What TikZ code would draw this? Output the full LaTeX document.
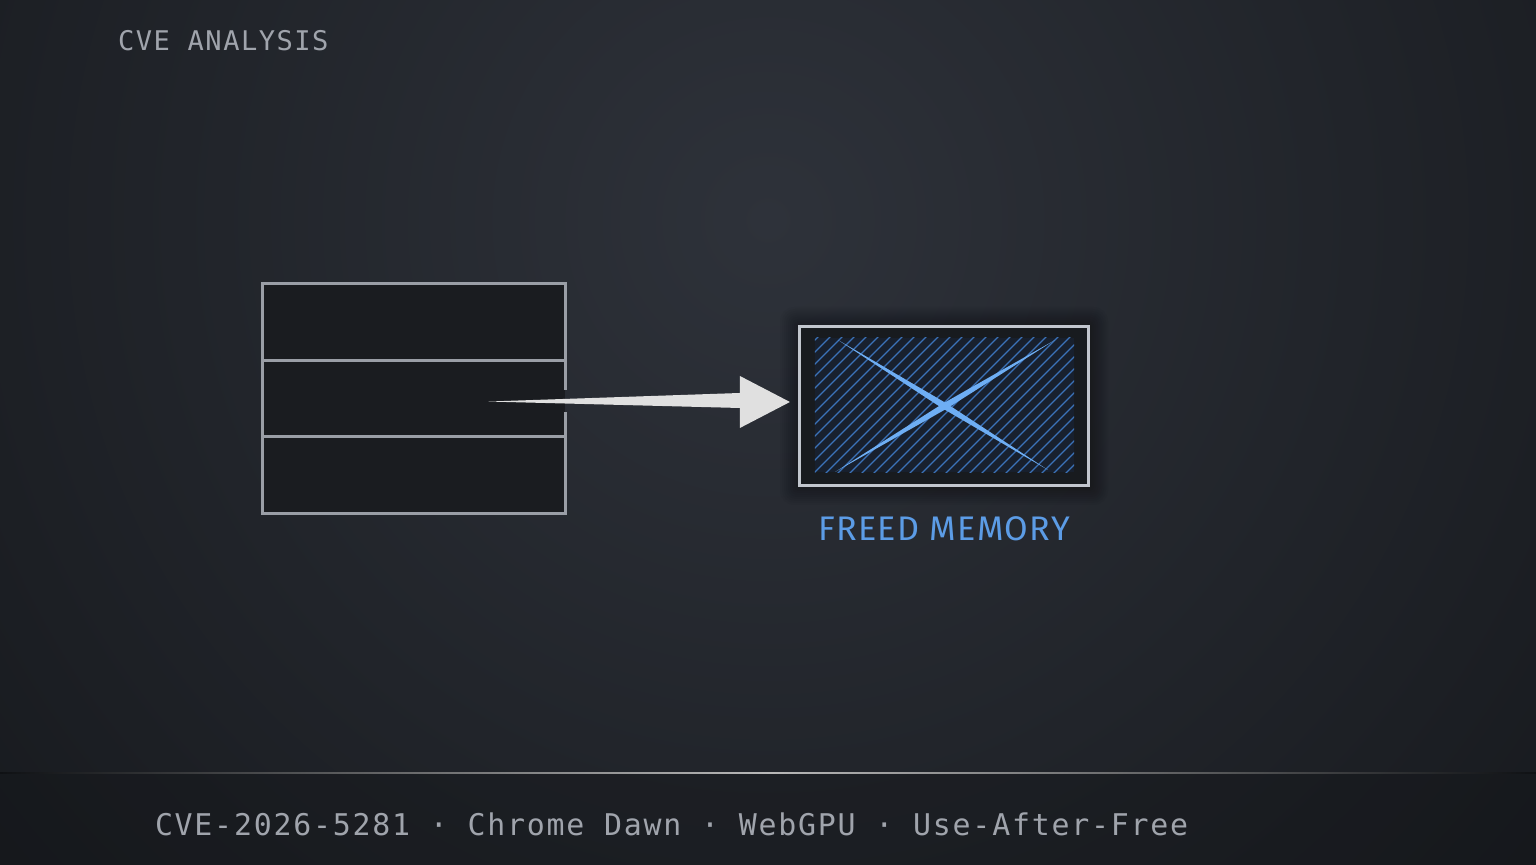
\documentclass[tikz,border=0pt]{standalone}
\usepackage{fontspec}
\newfontfamily\headfont[LetterSpace=5.5]{DejaVu Sans Mono}
\newfontfamily\footfont[LetterSpace=5.9]{DejaVu Sans Mono}
\newfontfamily\labelfont[LetterSpace=4]{Fira Sans}
\usepackage{tikz}
\usetikzlibrary{calc,positioning}

\definecolor{bgin}{HTML}{2E323A}
\definecolor{bgout}{HTML}{0F1114}
\definecolor{bandfill}{HTML}{131518}
\definecolor{cellfill}{HTML}{1A1C20}
\definecolor{cellline}{HTML}{9A9EA6}
\definecolor{arrowgrey}{HTML}{E0E0E0}
\definecolor{freedline}{HTML}{C2C6CE}
\definecolor{freedfill}{HTML}{181B1F}
\definecolor{hatchfill}{HTML}{18202E}
\definecolor{hatchline}{HTML}{3B72B8}
\definecolor{crossblue}{HTML}{6EAEF4}
\definecolor{labelblue}{HTML}{5C9CE6}
\definecolor{textgrey}{HTML}{A0A4AC}

\begin{document}
\begin{tikzpicture}[
  x=0.01cm, y=-0.01cm,
  cell/.style={rectangle, fill=cellfill, minimum width=3.02cm, minimum height=0.765cm,
    inner sep=0pt, outer sep=0pt},
  celledge/.style={draw=cellline, line width=0.85pt},
  freedbox/.style={rectangle, draw=freedline, fill=freedfill, line width=0.85pt,
    minimum width=2.88cm, minimum height=1.58cm, inner sep=0pt, outer sep=0pt},
  hatchstroke/.style={draw=hatchline, line width=0.4pt},
  crossstroke/.style={fill=crossblue},
  arrowfill/.style={fill=arrowgrey},
  plain/.style={inner sep=0pt, outer sep=0pt}
]
\useasboundingbox (0,0) rectangle (1536,865);

% background
\begin{scope}
  \clip (0,0) rectangle (1536,865);
  \fill[bgout] (0,0) rectangle (1536,865);
  \shade[inner color=bgin, outer color=bgout] (768,220) circle (1400);
  \fill[bandfill, opacity=0.35] (0,773) rectangle (1536,865);
\end{scope}
\shade[left color=bgout, right color=bgout, middle color=gray!55] (0,772.5) rectangle (1536,773.5);

% top heading
\node[plain, anchor=base west, text=textgrey, font=\headfont\fontsize{7.7}{9}\selectfont]
  (heading) at (118,51) {CVE ANALYSIS};

% memory cells
\node[cell] (cell1) at (414,322) {};
\node[cell, below=0pt of cell1] (cell2) {};
\node[cell, below=0pt of cell2] (cell3) {};
\draw[celledge] (cell1.south west) rectangle (cell1.north east);
\draw[celledge] (cell3.south west) rectangle (cell3.north east);
\draw[celledge] ($(cell2.east)+(0,-9)$) -- (cell2.north east) -- (cell2.north west)
  -- (cell2.south west) -- (cell2.south east) -- ($(cell2.east)+(0,13)$);

% freed block
\foreach \s in {2,4,...,20}
  \fill[black, opacity=0.03, rounded corners=\s*0.2pt]
    (944-144-\s,406-79-\s) rectangle (944+144+\s,406+79+\s);
\node[freedbox] (freed) at (944,406) {};
\coordinate (hatchA) at ($(freed.north west)+(15,11)$);
\coordinate (hatchB) at ($(freed.south east)+(-14,-13)$);
\begin{scope}
  \clip (hatchA) rectangle (hatchB);
  \fill[hatchfill] (hatchA) rectangle (hatchB);
  \foreach \hx in {668,680,...,1090}
    \draw[hatchstroke] (\hx,475) -- ++(140,-140);
\end{scope}

% cross
\coordinate (crossA1) at (838,340);
\coordinate (crossA2) at (1048,470);
\coordinate (crossB1) at (835,472);
\coordinate (crossB2) at (1055,340);
\fill[crossstroke] (crossA1) -- ($($(crossA1)!0.5!(crossA2)$)!0.9pt!90:(crossA2)$)
  -- (crossA2) -- ($($(crossA1)!0.5!(crossA2)$)!0.9pt!-90:(crossA2)$) -- cycle;
\fill[crossstroke] (crossB1) -- ($($(crossB1)!0.5!(crossB2)$)!0.9pt!90:(crossB2)$)
  -- (crossB2) -- ($($(crossB1)!0.5!(crossB2)$)!0.9pt!-90:(crossB2)$) -- cycle;

% dangling pointer
\coordinate (tail) at ($(cell2.east)+(-77,3)$);
\coordinate (tip) at ($(freed.west)+(-10,-4)$);
\fill[arrowfill] (tail) -- ($(tip)+(-50,-9)$) -- ($(tip)+(-50,-26)$) -- (tip)
  -- ($(tip)+(-50,26)$) -- ($(tip)+(-50,6)$) -- cycle;

\node[plain, anchor=base, text=labelblue, font=\labelfont\fontsize{9.7}{11}\selectfont]
  (freedlabel) at ($(freed.south)+(0,55)$) {FREED MEMORY};

% footer
\node[plain, anchor=base west, text=textgrey, font=\footfont\fontsize{8.5}{10}\selectfont]
  (footer) at (155,836) {CVE-2026-5281 · Chrome Dawn · WebGPU · Use-After-Free};
\end{tikzpicture}
\end{document}
